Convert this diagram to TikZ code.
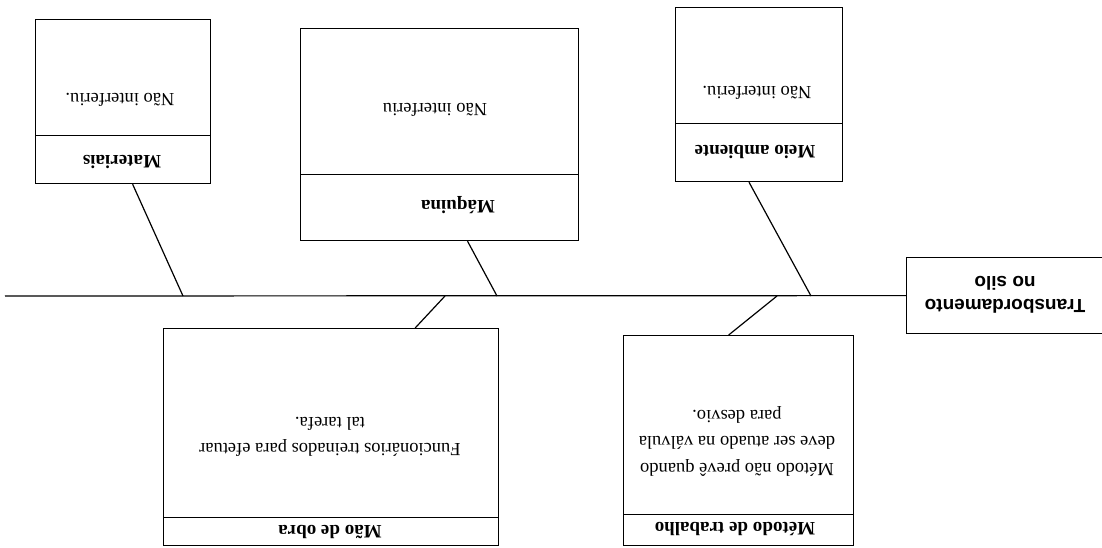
\documentclass[tikz,border=0pt]{standalone}
\usepackage{fontspec}
\setmainfont{Liberation Serif}
\newfontfamily\arialfont{Liberation Sans}
\usetikzlibrary{calc}
\begin{document}
\begin{tikzpicture}[x=1pt,y=-1pt,
  boxshape/.style={draw, line width=1.2pt, inner sep=0pt, anchor=north west},
  txt/.style={rotate=180, font=\fontsize{18.5}{26.5}\selectfont, align=center, inner sep=0pt},
  hdr/.style={rotate=180, font=\fontsize{19}{24}\selectfont\bfseries, align=center, inner sep=0pt},
  bone/.style={line width=1.2pt}]
\useasboundingbox (0,0) rectangle (1102,548);
% boxes
\node[boxshape, minimum width=175pt, minimum height=116pt] (matbody) at (35,19) {};
\node[boxshape, minimum width=175pt, minimum height=48pt] (mathead) at (35,135) {};
\node[boxshape, minimum width=278pt, minimum height=146pt] (maqbody) at (300,28) {};
\node[boxshape, minimum width=278pt, minimum height=66pt] (maqhead) at (300,174) {};
\node[boxshape, minimum width=167pt, minimum height=116pt] (meiobody) at (675,7) {};
\node[boxshape, minimum width=167pt, minimum height=58pt] (meiohead) at (675,123) {};
\node[boxshape, minimum width=335pt, minimum height=189pt] (maobody) at (163,328) {};
\node[boxshape, minimum width=335pt, minimum height=28pt] (maohead) at (163,517) {};
\node[boxshape, minimum width=230pt, minimum height=179pt] (metbody) at (623,335) {};
\node[boxshape, minimum width=230pt, minimum height=31pt] (methead) at (623,514) {};
\node[boxshape, minimum width=210pt, minimum height=76pt] (effect) at (906,257) {};
% texts
\node[txt] (t1) at (120,100) {Não interferiu.};
\node[hdr] (t2) at (122,162) {Materiais};
\node[txt] (t3) at (435,110) {Não interferiu};
\node[hdr] (t4) at (458,205) {Máquina};
\node[txt] (t5) at (757,93) {Não interferiu.};
\node[hdr] (t6) at (755,152) {Meio ambiente};
\node[txt] (t7) at (330,437) {Funcionários treinados para efetuar\\tal tarefa.};
\node[hdr] (t8) at (330,532) {Mão de obra};
\node[txt] (t9) at (737,441) {Método não prevê quando\\deve ser atuado na válvula\\para desvio.};
\node[hdr] (t10) at (735,529) {Método de trabalho};
\node[rotate=180, font=\arialfont\bfseries\fontsize{19}{23}\selectfont, align=center, inner sep=0pt] (t11) at (1005,295) {Transbordamento\\no silo};
% spine
\coordinate (tail) at (5,296);
\draw[bone] (tail) -- (effect.west);
\coordinate (s1) at (183,296);
\coordinate (s2) at (497,296);
\coordinate (s3) at (811,296);
\coordinate (s4) at (445,296);
\coordinate (s5) at (777,296);
% bones
\draw[bone] ($(mathead.south west)!0.554!(mathead.south east)$) -- (s1);
\draw[bone] ($(maqhead.south west)!0.60!(maqhead.south east)$) -- (s2);
\draw[bone] ($(meiohead.south west)!0.44!(meiohead.south east)$) -- (s3);
\draw[bone] ($(maobody.north west)!0.75!(maobody.north east)$) -- (s4);
\draw[bone] ($(metbody.north west)!0.457!(metbody.north east)$) -- (s5);
\end{tikzpicture}
\end{document}
